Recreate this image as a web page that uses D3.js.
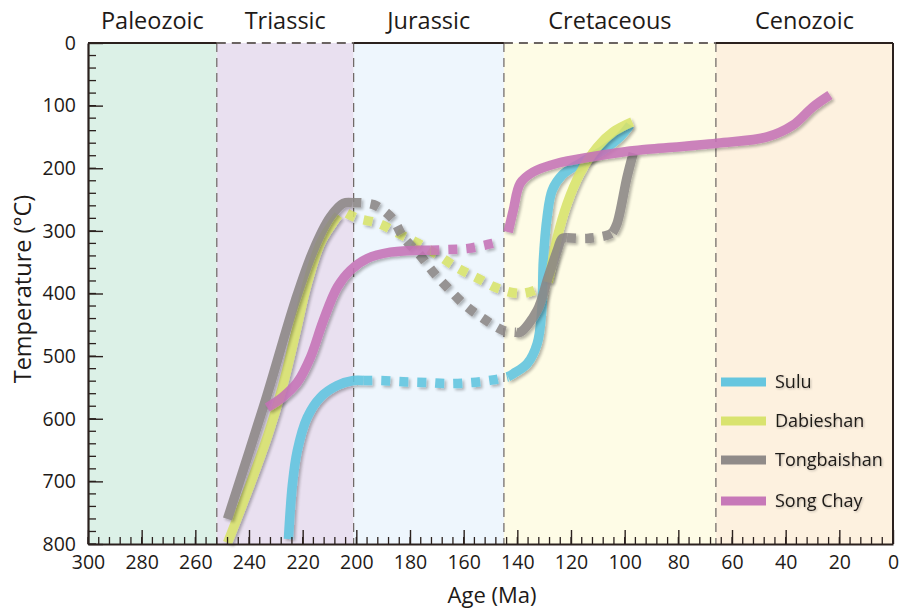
<!DOCTYPE html>
<html><head><meta charset="utf-8">
<script src="https://cdn.jsdelivr.net/npm/d3@7"></script>
<style>
html,body{margin:0;padding:0;background:#fff;}
svg{display:block;font-family:"Open Sans",sans-serif;}
</style></head>
<body>
<svg id="chart" width="901" height="611"></svg>
<script>
// ---- data ----
const periodNames = ["Paleozoic","Triassic","Jurassic","Cretaceous","Cenozoic"];
const periodStarts = [300,252,201,145,66];
const periodEnds   = [252,201,145,66,0];
const periodColors = ["#dcf1e7","#e9e0f0","#eef6fd","#fefce6","#fdf1df"];
const topBorderDashed = [false,true,false,true,false];

const xTickValues = [300,280,260,240,220,200,180,160,140,120,100,80,60,40,20,0];
const yTickValues = [0,100,200,300,400,500,600,700,800];

const seriesNames = ["Sulu","Dabieshan","Tongbaishan","Song Chay"];
const seriesColors = ["#5ec4df","#d8e36a","#8b8685","#c572b6"];

// segments: [style, points[[age, temp]]]
const suluSegments = [
  ["solid",[[225.3,792],[223.8,704],[222.0,651],[218.3,598],[213.4,566],[207.1,547],[201.1,539],[197.4,539]]],
  ["dashed",[[197.4,539],[191.0,539],[182.5,541],[174.3,542],[165.7,544],[156.8,542],[149.0,538],[143.5,533]]],
  ["solid",[[143.5,533],[141.5,528],[136.3,512],[132.6,480],[130.9,427],[130.3,347],[128.9,278],[127.0,235],[123.3,211],[116.6,192],[108.0,171],[101.7,150],[98.0,131]]]
];
const dabieshanSegments = [
  ["solid",[[248.0,798],[239.5,704],[232.8,624],[227.6,550],[222.7,464],[218.3,384],[213.4,320],[208.9,288],[206.7,275]]],
  ["dashed",[[203.5,272],[199.6,280],[191.8,288],[184.4,304],[176.9,320],[169.5,339],[162.0,360],[154.6,376],[147.1,392],[138.2,400],[130.7,390]]],
  ["solid",[[128.5,382],[127.8,368],[125.1,310],[121.4,256],[116.6,208],[110.2,166],[104.3,142],[97.2,126]]]
];
const tongbaishanSegments = [
  ["solid",[[248.0,760],[233.9,571],[222.7,411],[216.0,331],[209.7,278],[204.8,256],[201.5,255]]],
  ["dashed",[[201.5,255],[193.7,258],[186.6,280],[182.5,310],[176.2,339],[171.3,366],[165.7,392],[159.4,419],[152.7,440],[145.2,459],[140.5,462]]],
  ["solid",[[140.5,462],[138.9,462],[132.6,427],[128.5,374],[125.1,331],[123.3,312],[121.5,311]]],
  ["dashed",[[121.5,311],[114.0,312],[106.5,307],[104.5,303]]],
  ["solid",[[104.5,303],[102.8,288],[99.1,214],[96.8,176]]]
];
const songChaySegments = [
  ["solid",[[233.2,582],[227.6,566],[222.0,542],[217.1,502],[212.3,443],[207.1,390],[202.2,363],[195.9,344],[187.3,334],[177.3,331],[172.4,331]]],
  ["dashed",[[172.4,331],[166.1,330],[158.3,328],[149.3,320],[146,316]]],
  ["solid",[[143.4,302],[141.5,267],[138.9,224],[134.1,206],[125.1,192],[112.8,182],[100.5,174],[94.2,171],[65.6,160],[46.9,150],[37.2,131],[29.8,102],[23.5,83]]]
];
const allSegments = [suluSegments, dabieshanSegments, tongbaishanSegments, songChaySegments];

// ---- layout ----
const svg = d3.select("#chart");
const x = d3.scaleLinear().domain([300,0]).range([88,893]);
const y = d3.scaleLinear().domain([0,800]).range([43,544]);
const axisColor = "#2b211e";

const defs = svg.append("defs");
const f = defs.append("filter").attr("id","shadow").attr("x","-20%").attr("y","-20%").attr("width","140%").attr("height","140%");
f.append("feDropShadow").attr("dx",2).attr("dy",2).attr("stdDeviation",1.5).attr("flood-color","#000").attr("flood-opacity",0.32);
const ft = defs.append("filter").attr("id","tshadow").attr("x","-10%").attr("y","-20%").attr("width","130%").attr("height","150%");
ft.append("feDropShadow").attr("dx",1).attr("dy",1).attr("stdDeviation",0.8).attr("flood-color","#000").attr("flood-opacity",0.25);

// period backgrounds
const periods = periodNames.map((n,i)=>({name:n,start:periodStarts[i],end:periodEnds[i],color:periodColors[i],dashed:topBorderDashed[i]}));
svg.selectAll("rect.period").data(periods).enter().append("rect")
  .attr("x",d=>x(d.start)).attr("y",y(0))
  .attr("width",d=>x(d.end)-x(d.start)).attr("height",y(800)-y(0))
  .attr("fill",d=>d.color);

svg.selectAll("text.period").data(periods).enter().append("text")
  .attr("x",d=>(x(d.start)+x(d.end))/2).attr("y",29)
  .attr("text-anchor","middle").attr("font-size",23.5).attr("fill","#1e1a18")
  .text(d=>d.name);

// period boundary dashed lines
svg.selectAll("line.boundary").data(periodStarts.slice(1)).enter().append("line")
  .attr("x1",d=>x(d)).attr("x2",d=>x(d)).attr("y1",y(0)).attr("y2",y(800))
  .attr("stroke","#6b6462").attr("stroke-width",1.2).attr("stroke-dasharray","9,6");

// series
const line = d3.line().x(d=>x(d[0])).y(d=>y(d[1])).curve(d3.curveCatmullRom.alpha(0.5));
const seriesG = svg.append("g");
allSegments.forEach((segs,si)=>{
  const g = seriesG.append("g").attr("filter","url(#shadow)").attr("opacity",0.88);
  segs.forEach(s=>{
    g.append("path").attr("d",line(s[1])).attr("fill","none")
      .attr("stroke",seriesColors[si]).attr("stroke-width",9.5)
      .attr("stroke-linecap","butt")
      .attr("stroke-dasharray",s[0]==="dashed"?"9,9":null);
  });
});

// axes: minor ticks
const minorX = d3.range(300,-1,-4);
const minorY = d3.range(0,801,20);
svg.append("g").selectAll("line").data(minorX).enter().append("line")
  .attr("x1",d=>x(d)).attr("x2",d=>x(d)).attr("y1",y(800)).attr("y2",y(800)-7)
  .attr("stroke",axisColor).attr("stroke-width",1.3);
svg.append("g").selectAll("line").data(minorY).enter().append("line")
  .attr("x1",x(300)).attr("x2",x(300)+8).attr("y1",d=>y(d)).attr("y2",d=>y(d))
  .attr("stroke",axisColor).attr("stroke-width",1.3);

const xAxis = d3.axisBottom(x).tickValues(xTickValues).tickSizeInner(-14).tickSizeOuter(0).tickPadding(8).tickFormat(d3.format("d"));
const gx = svg.append("g").attr("transform",`translate(0,${y(800)})`).call(xAxis);
gx.selectAll("line").attr("stroke",axisColor).attr("stroke-width",1.4);
gx.select(".domain").attr("stroke",axisColor).attr("stroke-width",2.2);
gx.selectAll("text").attr("font-size",19.5).attr("fill","#1e1a18").attr("font-family","'Open Sans',sans-serif").attr("dy","0.8em").attr("y",9);

const yAxis = d3.axisLeft(y).tickValues(yTickValues).tickSizeInner(-15).tickSizeOuter(0).tickPadding(12).tickFormat(d3.format("d"));
const gy = svg.append("g").attr("transform",`translate(${x(300)},0)`).call(yAxis);
gy.selectAll("line").attr("stroke",axisColor).attr("stroke-width",1.4);
gy.select(".domain").attr("stroke",axisColor).attr("stroke-width",2.2);
gy.selectAll("text").attr("font-size",19.5).attr("fill","#1e1a18").attr("font-family","'Open Sans',sans-serif");

// right & top borders
svg.append("line").attr("x1",x(0)).attr("x2",x(0)).attr("y1",y(0)).attr("y2",y(800))
  .attr("stroke",axisColor).attr("stroke-width",2);
svg.selectAll("line.top").data(periods).enter().append("line")
  .attr("x1",d=>x(d.start)).attr("x2",d=>x(d.end)).attr("y1",y(0)).attr("y2",y(0))
  .attr("stroke",d=>d.dashed?"#6b6462":axisColor).attr("stroke-width",d=>d.dashed?2:2.2)
  .attr("stroke-dasharray",d=>d.dashed?"9,6":null);

// axis titles
svg.append("text").attr("x",492).attr("y",603).attr("text-anchor","middle")
  .attr("font-size",22).attr("fill","#1e1a18").text("Age (Ma)");
svg.append("text").attr("transform","translate(31,289) rotate(-90)").attr("text-anchor","middle")
  .attr("font-size",23.5).attr("fill","#1e1a18").text("Temperature (°C)");

// legend
const legendY = [382,421,460,501];
const lg = svg.append("g");
seriesNames.forEach((n,i)=>{
  lg.append("line").attr("x1",721).attr("x2",766).attr("y1",legendY[i]).attr("y2",legendY[i])
    .attr("stroke",seriesColors[i]).attr("stroke-width",9).attr("opacity",0.95);
  lg.append("text").attr("x",775).attr("y",legendY[i]).attr("dy","0.35em")
    .attr("font-size",18).attr("fill","#1e1a18").attr("filter","url(#tshadow)").text(n);
});
</script>
</body></html>
